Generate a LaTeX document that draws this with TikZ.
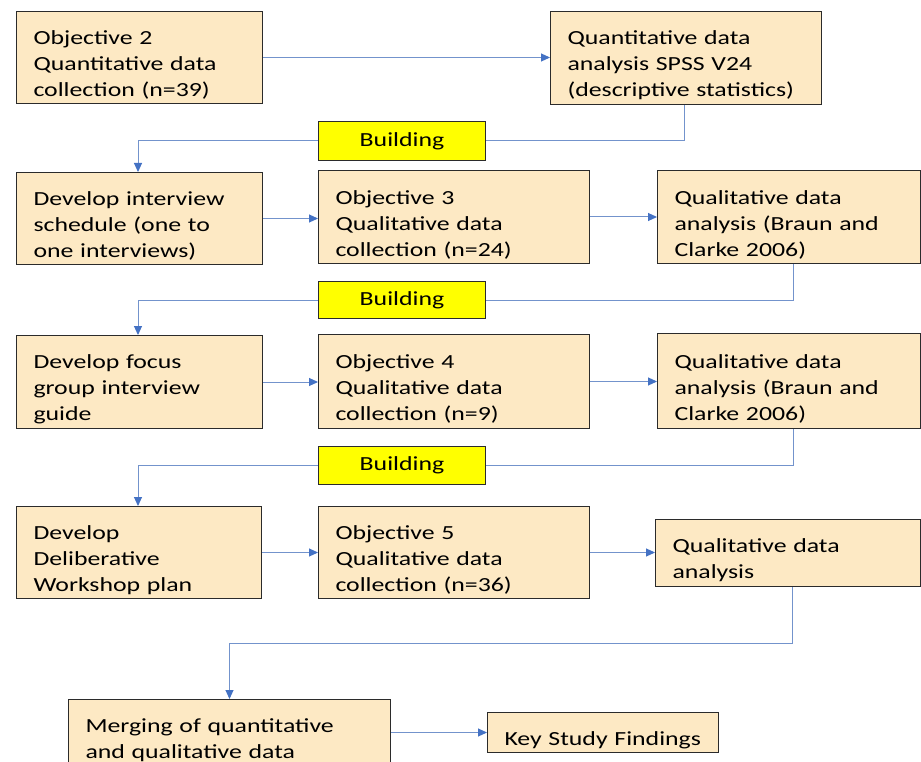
\documentclass[tikz,border=0pt]{standalone}
\usepackage{fontspec}
\setmainfont{Carlito}[FakeStretch=1.29]
\usetikzlibrary{arrows.meta,calc}
\definecolor{boxfill}{HTML}{FDE9C4}
\definecolor{boxline}{HTML}{2B2B2B}
\definecolor{linkline}{HTML}{7393CC}
\definecolor{linktip}{HTML}{4472C4}
\definecolor{tagfill}{HTML}{FFFF00}
\tikzset{
  stage/.style={draw=boxline, line width=1pt, fill=boxfill, anchor=north west,
    align=left, inner xsep=17pt, inner ysep=0pt, font=\fontsize{20}{26}\selectfont,
    execute at begin node={\rule{0pt}{29pt}}},
  tag/.style={draw=boxline, line width=1pt, fill=tagfill, anchor=north west,
    inner sep=0pt, font=\fontsize{20}{26}\selectfont},
  link/.style={draw=linkline, line width=1pt},
  flow/.style={link, -{Triangle[length=9pt,width=8pt,color=linktip]}}
}
\newcommand{\stagebox}[6]{%
  \node[stage, minimum width=#4pt, minimum height=#5pt, text width=#4pt-34pt]
    (#1) at (#2,#3) {#6};}
\begin{document}
\begin{tikzpicture}[x=1pt,y=-1pt]
\useasboundingbox[fill=white] (0,0) rectangle (921,762);

% row 1
\stagebox{obj2}{16}{11}{246}{92}{Objective 2\\Quantitative data\\collection (n=39)}
\stagebox{spss}{550}{11}{271}{93}{Quantitative data\\analysis SPSS V24\\(descriptive statistics)}
\node[tag, minimum width=167pt, minimum height=39pt] (b1) at (318,121) {Building};

% row 2
\stagebox{sched}{16}{172}{246}{92}{Develop interview\\schedule (one to\\one interviews)}
\stagebox{obj3}{318}{170}{271}{93}{Objective 3\\Qualitative data\\collection (n=24)}
\stagebox{qual1}{657}{170}{263}{93}{Qualitative data\\analysis (Braun and\\Clarke 2006)}
\node[tag, minimum width=167pt, minimum height=37pt] (b2) at (318,281) {Building};

% row 3
\stagebox{focus}{16}{335}{246}{93}{Develop focus\\group interview\\guide}
\stagebox{obj4}{318}{334}{271}{94}{Objective 4\\Qualitative data\\collection (n=9)}
\stagebox{qual2}{657}{333}{263}{95}{Qualitative data\\analysis (Braun and\\Clarke 2006)}
\node[tag, minimum width=167pt, minimum height=38pt] (b3) at (318,446) {Building};

% row 4
\stagebox{plan}{16}{506}{245}{92}{Develop\\Deliberative\\Workshop plan}
\stagebox{obj5}{318}{506}{271}{92}{Objective 5\\Qualitative data\\collection (n=36)}
\stagebox{qual3}{655}{519}{265}{67}{Qualitative data\\analysis}

% row 5 (the merge box runs past the lower edge)
\node[stage, minimum width=322pt, minimum height=66pt, text width=288pt,
  execute at begin node={}] (merge) at (68,699)
  {Merging of quantitative\\and qualitative data};
\stagebox{key}{487}{712}{231}{40}{Key Study Findings}

% turning points of the elbow links
\coordinate (d1) at (684,140);
\coordinate (d2) at (793,298);
\coordinate (d3) at (793,465);
\coordinate (d4) at (792,643);
\coordinate (col) at (138,0);

% row 1 links
\draw[flow] (obj2.east) -- (obj2.east -| spss.west);
\draw[link] (spss.south -| d1) |- (b1.east);
\draw[flow] (b1.west) -| (sched.north -| col);

% row 2 links
\draw[flow] (sched.east) -- (sched.east -| obj3.west);
\draw[flow] (obj3.east) -- (obj3.east -| qual1.west);
\draw[link] (qual1.south -| d2) |- (b2.east);
\draw[flow] (b2.west) -| (focus.north -| col);

% row 3 links
\draw[flow] (focus.east) -- (focus.east -| obj4.west);
\draw[flow] (obj4.east) -- (obj4.east -| qual2.west);
\draw[link] (qual2.south -| d3) |- (b3.east);
\draw[flow] (b3.west) -| (plan.north -| col);

% row 4 links
\draw[flow] (plan.east) -- (plan.east -| obj5.west);
\draw[flow] (obj5.east) -- (obj5.east -| qual3.west);
\draw[flow] (qual3.south -| d4) -- (d4) -| (merge.north);

% row 5 link
\draw[flow] (merge.east |- key.west) -- (key.west);
\end{tikzpicture}
\end{document}
